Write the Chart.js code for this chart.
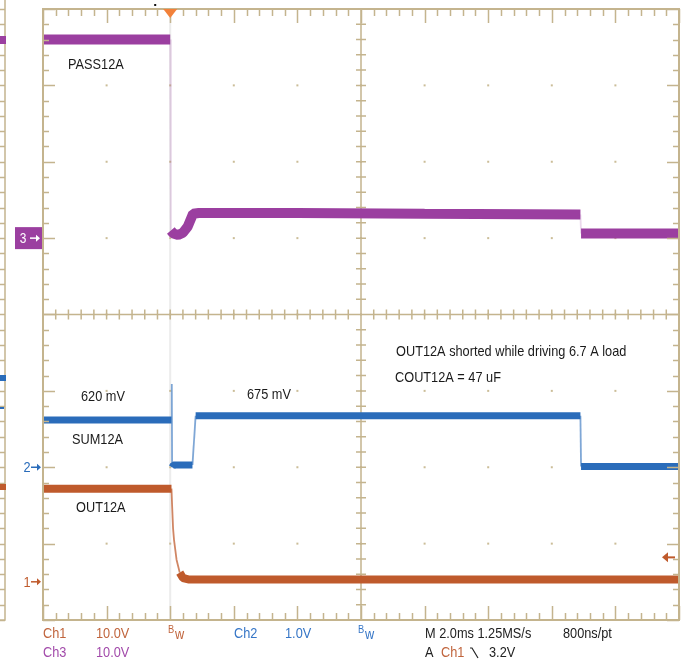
<!DOCTYPE html>
<html>
<head>
<meta charset="utf-8">
<script src="https://cdn.jsdelivr.net/npm/chart.js@4.4.1/dist/chart.umd.min.js"></script>
<style>
  html, body { margin: 0; padding: 0; background: #fff; }
  #wrap { width: 683px; height: 663px; position: relative; }
</style>
</head>
<body>
<div id="wrap"><canvas id="scope" width="683" height="663"></canvas></div>
<script>
// Time in ms relative to the trigger (2 ms/div, 10 divisions, trigger 2 div from left)
const pass12aTime  = [-4, 0, 0.02, 0.1, 0.25, 0.4, 0.55, 0.72, 0.9, 4, 8, 12.9, 12.92, 16];
const pass12aVolts = [26, 26, 1.0, 0.6, 0.4, 0.7, 1.5, 3.2, 3.3, 3.3, 3.2, 3.1, 0.6, 0.6];

const sum12aTime  = [-4, 0.04, 0.05, 0.06, 0.1, 0.7, 0.8, 12.9, 12.92, 16];
const sum12aVolts = [0.62, 0.62, 1.09, 0.0, 0.03, 0.03, 0.675, 0.675, 0.01, 0.01];

const out12aTime  = [-4, 0.04, 0.06, 0.09, 0.12, 0.2, 0.3, 0.4, 0.6, 16];
const out12aVolts = [12.2, 12.2, 10, 7, 5.5, 2.9, 1.2, 0.5, 0.3, 0.3];

// Vertical settings: volts per division and ground marker position (divisions from centre)
const ch1VoltsPerDiv = 10,  ch1GroundDiv = -3.5;
const ch2VoltsPerDiv = 1,   ch2GroundDiv = -2;
const ch3VoltsPerDiv = 10,  ch3GroundDiv = 1;
const triggerTime = 0, triggerLevel = 3.2;   // Ch1 falling edge
const timeStart = -4, timeEnd = 16, msPerDiv = 2;

const FONT = "'Liberation Sans', Arial, sans-serif";
const NARROW = 0.85;   // condensed readout lettering
const TAN = '#c4b48e';
const PURPLE = '#9b3fa0', BLUE = '#2a6cba', ORANGE = '#bf5a2c';

const toPoints = (t, v) => t.map((x, i) => ({ x, y: v[i] }));
const axisRange = (vpd, g) => ({ min: (-4 - g) * vpd, max: (4 - g) * vpd });

// thin, faded strokes for the fast vertical edges of each trace
function edgeSegment(color, alpha) {
  const steep = c => {
    const dy = Math.abs(c.p1.y - c.p0.y), dx = Math.abs(c.p1.x - c.p0.x);
    return dy > 6 && dy > 3 * dx;
  };
  return {
    borderWidth: c => steep(c) ? 1.8 : undefined,
    borderColor: c => steep(c) ? color + alpha : undefined
  };
}

function txt(ctx, s, x, y, color, size, align) {
  ctx.save();
  ctx.font = (size || 15) + 'px ' + FONT;
  ctx.fillStyle = color;
  ctx.textAlign = align || 'left';
  ctx.textBaseline = 'middle';
  ctx.translate(x, y);
  ctx.scale(NARROW, 1);
  ctx.fillText(s, 0, 0);
  ctx.restore();
}

const graticule = {
  id: 'graticule',
  beforeDatasetsDraw(chart) {
    const { ctx, chartArea: a, scales } = chart;
    const xs = scales.x, gs = scales.grid;
    ctx.save();
    // faint trace edge at the trigger instant
    const xt = xs.getPixelForValue(triggerTime);
    ctx.fillStyle = '#ececec';
    ctx.fillRect(xt - 1, a.top, 2, a.bottom - a.top);
    // division dots
    ctx.fillStyle = '#cbbd98';
    for (let t = timeStart + msPerDiv; t < timeEnd; t += msPerDiv) {
      for (let d = -3; d <= 3; d++) {
        ctx.fillRect(xs.getPixelForValue(t) - 1, gs.getPixelForValue(d) - 1, 2, 2);
      }
    }
    // centre cross with minor ticks
    const cx = xs.getPixelForValue((timeStart + timeEnd) / 2), cy = gs.getPixelForValue(0);
    ctx.strokeStyle = TAN; ctx.lineWidth = 1.5;
    ctx.beginPath();
    ctx.moveTo(a.left, cy); ctx.lineTo(a.right, cy);
    ctx.moveTo(cx, a.top); ctx.lineTo(cx, a.bottom);
    for (let t = timeStart; t <= timeEnd + 1e-6; t += msPerDiv / 5) {
      const x = xs.getPixelForValue(t);
      ctx.moveTo(x, cy - 5); ctx.lineTo(x, cy + 5);
    }
    for (let d = -4; d <= 4 + 1e-6; d += 0.2) {
      const y = gs.getPixelForValue(d);
      ctx.moveTo(cx - 5, y); ctx.lineTo(cx + 5, y);
    }
    ctx.stroke();
    ctx.restore();
  },
  afterDatasetsDraw(chart) {
    const { ctx, chartArea: a, scales } = chart;
    const xs = scales.x, gs = scales.grid;
    ctx.save();
    // frame with inward ticks
    ctx.strokeStyle = TAN; ctx.lineWidth = 2;
    ctx.strokeRect(a.left, a.top, a.right - a.left, a.bottom - a.top);
    ctx.lineWidth = 1.5;
    ctx.beginPath();
    let k = 0;
    for (let t = timeStart; t <= timeEnd + 1e-6; t += msPerDiv / 5, k++) {
      const x = Math.round(xs.getPixelForValue(t)) + 0.5;
      const L = (k % 5 === 0) ? 14 : 7;
      ctx.moveTo(x, a.top); ctx.lineTo(x, a.top + L);
      ctx.moveTo(x, a.bottom); ctx.lineTo(x, a.bottom - L);
    }
    k = 0;
    for (let d = -4; d <= 4 + 1e-6; d += 0.2, k++) {
      const y = Math.round(gs.getPixelForValue(d)) + 0.5;
      const L = (k % 5 === 0) ? 12 : 6;
      ctx.moveTo(a.left, y); ctx.lineTo(a.left + L, y);
      ctx.moveTo(a.right, y); ctx.lineTo(a.right - L, y);
    }
    ctx.stroke();

    // partial frame at the far left edge
    ctx.beginPath();
    ctx.moveTo(5, 0); ctx.lineTo(5, a.bottom); ctx.lineTo(0, a.bottom);
    for (let d = -4; d <= 4 + 1e-6; d += 0.2) {
      const y = Math.round(gs.getPixelForValue(d)) + 0.5;
      ctx.moveTo(0, y); ctx.lineTo(5, y);
    }
    ctx.stroke();
    ctx.fillStyle = PURPLE; ctx.fillRect(0, 36, 6, 8);
    ctx.fillStyle = BLUE; ctx.fillRect(0, 375, 6, 6);
    ctx.fillStyle = BLUE; ctx.fillRect(0, 407, 4, 2);
    ctx.fillStyle = ORANGE; ctx.fillRect(0, 484, 6, 6);

    // trigger position marker
    const xt = xs.getPixelForValue(triggerTime);
    ctx.fillStyle = '#f2813a';
    ctx.beginPath();
    ctx.moveTo(xt - 7, a.top); ctx.lineTo(xt + 7, a.top); ctx.lineTo(xt, a.top + 9);
    ctx.closePath(); ctx.fill();
    ctx.fillStyle = '#111'; ctx.fillRect(xt - 16, 4, 2, 2);

    // trigger level marker (right edge)
    const yl = scales.y1.getPixelForValue(triggerLevel);
    ctx.strokeStyle = ORANGE; ctx.fillStyle = ORANGE; ctx.lineWidth = 2;
    ctx.beginPath(); ctx.moveTo(a.right - 4, yl); ctx.lineTo(a.right - 14, yl); ctx.stroke();
    ctx.beginPath(); ctx.moveTo(a.right - 17, yl); ctx.lineTo(a.right - 11, yl - 5); ctx.lineTo(a.right - 11, yl + 5);
    ctx.closePath(); ctx.fill();

    // channel ground markers
    const y3 = scales.y3.getPixelForValue(0);
    ctx.fillStyle = PURPLE; ctx.fillRect(15, y3 - 11, 27, 22);
    txt(ctx, '3', 23, y3 + 1, '#fff', 14, 'center');
    const arrow = (x, y, c) => {
      ctx.strokeStyle = c; ctx.fillStyle = c; ctx.lineWidth = 1.5;
      ctx.beginPath(); ctx.moveTo(x, y); ctx.lineTo(x + 7, y); ctx.stroke();
      ctx.beginPath(); ctx.moveTo(x + 10, y); ctx.lineTo(x + 6, y - 3.5); ctx.lineTo(x + 6, y + 3.5); ctx.closePath(); ctx.fill();
    };
    arrow(30, y3, '#fff');
    const y2 = scales.y2.getPixelForValue(0);
    txt(ctx, '2', 27, y2 + 1, BLUE, 15, 'center');
    arrow(31, y2, BLUE);
    const y1 = scales.y1.getPixelForValue(0);
    txt(ctx, '1', 27, y1 + 1, ORANGE, 15, 'center');
    arrow(31, y1, ORANGE);

    // trace labels and notes
    txt(ctx, 'PASS12A', 68, 65, '#1a1a1a');
    txt(ctx, '620 mV', 81, 397, '#1a1a1a');
    txt(ctx, 'SUM12A', 72, 440, '#1a1a1a');
    txt(ctx, 'OUT12A', 76, 508, '#1a1a1a');
    txt(ctx, '675 mV', 247, 395, '#1a1a1a');
    txt(ctx, 'OUT12A shorted while driving 6.7 A load', 396, 352, '#1a1a1a');
    txt(ctx, 'COUT12A = 47 uF', 395, 378, '#1a1a1a');

    // status readout
    const C1 = '#c0643c', C2 = '#3575c6', C3 = '#a24aaa';
    txt(ctx, 'Ch1', 43, 634, C1);
    txt(ctx, '10.0V', 96, 634, C1);
    txt(ctx, 'B', 168, 630, C1, 11);
    txt(ctx, 'w', 175, 635, C1, 15);
    txt(ctx, 'Ch2', 234, 634, C2);
    txt(ctx, '1.0V', 285, 634, C2);
    txt(ctx, 'B', 358, 630, C2, 11);
    txt(ctx, 'w', 365, 635, C2, 15);
    txt(ctx, 'M 2.0ms 1.25MS/s', 425, 634, '#222');
    txt(ctx, '800ns/pt', 563, 634, '#222');
    txt(ctx, 'Ch3', 43, 653, C3);
    txt(ctx, '10.0V', 96, 653, C3);
    txt(ctx, 'A', 425, 653, '#222');
    txt(ctx, 'Ch1', 441, 653, C1);
    ctx.strokeStyle = '#222'; ctx.lineWidth = 1.2;
    ctx.beginPath(); ctx.moveTo(470, 648); ctx.lineTo(472, 648); ctx.lineTo(478, 658); ctx.stroke();
    txt(ctx, '3.2V', 489, 653, '#222');
    ctx.restore();
  }
};

const r1 = axisRange(ch1VoltsPerDiv, ch1GroundDiv);
const r2 = axisRange(ch2VoltsPerDiv, ch2GroundDiv);
const r3 = axisRange(ch3VoltsPerDiv, ch3GroundDiv);

new Chart(document.getElementById('scope'), {
  type: 'line',
  data: {
    datasets: [
      { label: 'PASS12A', yAxisID: 'y3', data: toPoints(pass12aTime, pass12aVolts),
        borderColor: PURPLE, borderWidth: 10, segment: edgeSegment(PURPLE, '33') },
      { label: 'SUM12A', yAxisID: 'y2', data: toPoints(sum12aTime, sum12aVolts),
        borderColor: BLUE, borderWidth: 7, segment: edgeSegment(BLUE, '99') },
      { label: 'OUT12A', yAxisID: 'y1', data: toPoints(out12aTime, out12aVolts),
        borderColor: ORANGE, borderWidth: 8, segment: edgeSegment(ORANGE, 'bb') }
    ]
  },
  options: {
    responsive: false,
    animation: false,
    events: [],
    layout: { padding: { left: 43, top: 9, right: 4, bottom: 43 } },
    elements: {
      point: { radius: 0 },
      line: { tension: 0, borderCapStyle: 'butt', borderJoinStyle: 'bevel' }
    },
    plugins: { legend: { display: false }, tooltip: { enabled: false } },
    scales: {
      x: { type: 'linear', axis: 'x', min: timeStart, max: timeEnd, display: false },
      grid: { type: 'linear', axis: 'y', min: -4, max: 4, display: false },
      y1: { type: 'linear', axis: 'y', min: r1.min, max: r1.max, display: false },
      y2: { type: 'linear', axis: 'y', min: r2.min, max: r2.max, display: false },
      y3: { type: 'linear', axis: 'y', min: r3.min, max: r3.max, display: false }
    }
  },
  plugins: [graticule]
});
</script>
</body>
</html>
